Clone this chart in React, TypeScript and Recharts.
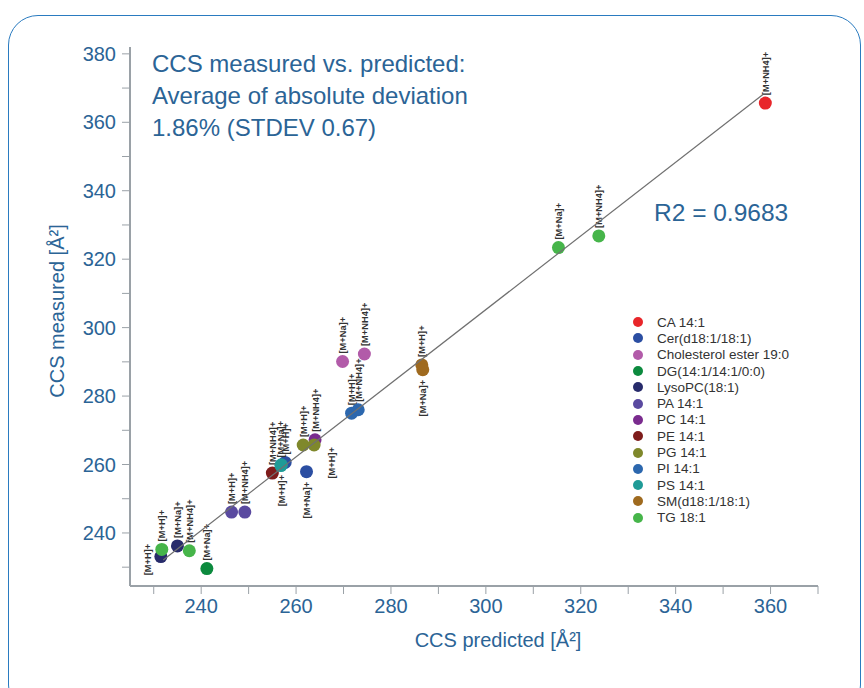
import React from 'react';
import { ScatterChart, Scatter, XAxis, YAxis } from 'recharts';

// ---- categories ----
const lipidNames = [
  'CA 14:1',
  'Cer(d18:1/18:1)',
  'Cholesterol ester 19:0',
  'DG(14:1/14:1/0:0)',
  'LysoPC(18:1)',
  'PA 14:1',
  'PC 14:1',
  'PE 14:1',
  'PG 14:1',
  'PI 14:1',
  'PS 14:1',
  'SM(d18:1/18:1)',
  'TG 18:1',
];
const lipidColors = [
  '#e8262a', '#2b4ea2', '#b25ba9', '#0c8a3e', '#272b6b', '#5a4aa0', '#7a2b8e',
  '#7e1c1b', '#7f882b', '#2c67ae', '#1f9b97', '#9f6a1f', '#46b54a',
];

// ---- points (index into lipidNames) ----
const pointLipid = [0, 12, 12, 12, 12, 4, 4, 3, 5, 5, 7, 1, 10, 10, 1, 8, 6, 8, 2, 2, 9, 9, 11, 11];
const predicted = [358.9, 315.3, 323.8, 231.7, 237.5, 231.5, 235.0, 241.2, 246.4, 249.2, 255.0, 257.7, 256.8, 256.9, 262.2, 261.5, 264.0, 263.8, 269.8, 274.4, 271.7, 273.1, 286.5, 286.7];
const measured = [365.6, 323.4, 326.8, 235.2, 234.8, 233.1, 236.2, 229.6, 246.1, 246.1, 257.5, 260.6, 259.7, 259.9, 257.9, 265.7, 267.2, 265.7, 290.1, 292.3, 275.0, 276.0, 289.1, 287.7];
const adducts = ['[M+NH4]+', '[M+Na]+', '[M+NH4]+', '[M+H]+', '[M+NH4]+', '[M+H]+', '[M+Na]+', '[M+Na]+', '[M+H]+', '[M+NH4]+', '[M+NH4]+', '[M+H]+', '[M+Na]+', '[M+H]+', '[M+Na]+', '[M+H]+', '[M+NH4]+', '[M+H]+', '[M+Na]+', '[M+NH4]+', '[M+H]+', '[M+NH4]+', '[M+H]+', '[M+Na]+'];
const labelSide = ['up', 'up', 'up', 'up', 'up', 'left', 'up', 'up', 'up', 'up', 'up', 'up', 'up', 'down', 'down', 'up', 'up', 'downRight', 'up', 'up', 'up', 'up', 'up', 'down'];

// ---- regression line ----
const fitPredicted = [232.0, 358.4];
const fitMeasured = [232.1, 368.1];

// ---- axes ----
const xTicks = [230, 240, 250, 260, 270, 280, 290, 300, 310, 320, 330, 340, 350, 360, 370];
const yTicks = [230, 240, 250, 260, 270, 280, 290, 300, 310, 320, 330, 340, 350, 360, 370, 380];

const blue = '#2b6496';
const font = "'Liberation Sans', Arial, Helvetica, sans-serif";

const seriesData = lipidNames.map((name, li) =>
  predicted
    .map((x, i) => ({ x, y: measured[i], adduct: adducts[i], side: labelSide[i], lipid: pointLipid[i] }))
    .filter((p) => p.lipid === li)
);
const fitData = fitPredicted.map((x, i) => ({ x, y: fitMeasured[i] }));

const makeShape = (color: string) => (props: any) => {
  const { cx, cy, payload } = props;
  if (cx == null || cy == null) return <g />;
  const side = payload.side;
  let lx = cx + 3.5;
  let ly = cy - 8;
  let anchor: 'start' | 'middle' | 'end' = 'start';
  if (side === 'down') {
    lx = cx + 3.5;
    ly = cy + 10;
    anchor = 'end';
  } else if (side === 'left') {
    lx = cx - 9.5;
    ly = cy + 3;
    anchor = 'middle';
  } else if (side === 'downRight') {
    lx = cx + 21;
    ly = cy + 2;
    anchor = 'end';
  }
  return (
    <g>
      <circle cx={cx} cy={cy} r={6.5} fill={color} />
      <text
        x={lx}
        y={ly}
        transform={`rotate(-90 ${lx} ${ly})`}
        textAnchor={anchor}
        fontSize={9.3}
        fontWeight={700}
        fontFamily={font}
        fill="#333"
      >
        {payload.adduct}
      </text>
    </g>
  );
};

const fmt = (v: number) => (v % 20 === 0 ? String(v) : '');

export default function App() {
  return (
    <div style={{ position: 'absolute', left: 0, top: 0, width: 864, height: 688, overflow: 'hidden', background: '#fff', fontFamily: font }}>
      <div
        style={{
          position: 'absolute',
          left: 8,
          top: 15,
          width: 853,
          height: 700,
          border: '1.5px solid #2a7bc0',
          borderRadius: 30,
          boxSizing: 'border-box',
        }}
      />
      <ScatterChart width={864} height={688} margin={{ top: 47, right: 46, left: 0, bottom: 42 }}>
        <XAxis
          type="number"
          dataKey="x"
          domain={[225, 370]}
          ticks={xTicks}
          interval={0}
          tickFormatter={fmt}
          allowDataOverflow
          height={60}
          stroke="#9aa1a7"
          strokeWidth={2}
          tickSize={8}
          tickMargin={5}
          tick={{ fill: blue, fontSize: 20, fontFamily: font }}
          tickLine={{ stroke: '#9aa1a7', strokeWidth: 1 }}
        />
        <YAxis
          type="number"
          dataKey="y"
          domain={[224.5, 382]}
          ticks={yTicks}
          interval={0}
          tickFormatter={fmt}
          allowDataOverflow
          width={130}
          stroke="#9aa1a7"
          strokeWidth={2}
          tickSize={8}
          tickMargin={6}
          tick={{ fill: blue, fontSize: 20, fontFamily: font }}
          tickLine={{ stroke: '#9aa1a7', strokeWidth: 1 }}
        />
        {seriesData.map((d, i) => (
          <Scatter
            key={lipidNames[i]}
            name={lipidNames[i]}
            data={d}
            fill={lipidColors[i]}
            shape={makeShape(lipidColors[i])}
            isAnimationActive={false}
          />
        ))}
        <Scatter
          name="fit"
          data={fitData}
          line={{ stroke: '#707070', strokeWidth: 1.2 }}
          shape={() => <g />}
          legendType="none"
          isAnimationActive={false}
        />
      </ScatterChart>

      <div style={{ position: 'absolute', left: 152, top: 48, color: blue, fontSize: 24, lineHeight: '32px', whiteSpace: 'nowrap' }}>
        <div>CCS measured vs. predicted:</div>
        <div>Average of absolute deviation</div>
        <div>1.86% (STDEV 0.67)</div>
      </div>
      <div style={{ position: 'absolute', left: 654, top: 199, color: blue, fontSize: 24.5, whiteSpace: 'nowrap' }}>R2 = 0.9683</div>

      <div
        style={{
          position: 'absolute',
          left: 57,
          top: 311,
          transform: 'translate(-50%, -50%) rotate(-90deg)',
          color: blue,
          fontSize: 20,
          whiteSpace: 'nowrap',
        }}
      >
        CCS measured [Å²]
      </div>
      <div
        style={{
          position: 'absolute',
          left: 498,
          top: 640,
          transform: 'translate(-50%, -50%)',
          color: blue,
          fontSize: 20,
          whiteSpace: 'nowrap',
        }}
      >
        CCS predicted [Å²]
      </div>

      <div style={{ position: 'absolute', left: 633, top: 314 }}>
        {lipidNames.map((n, i) => (
          <div key={n} style={{ display: 'flex', alignItems: 'center', height: 16.3 }}>
            <span style={{ display: 'inline-block', width: 10, height: 10, borderRadius: 5, background: lipidColors[i], marginRight: 14 }} />
            <span style={{ fontSize: 13.5, color: '#333', whiteSpace: 'nowrap' }}>{n}</span>
          </div>
        ))}
      </div>
    </div>
  );
}
